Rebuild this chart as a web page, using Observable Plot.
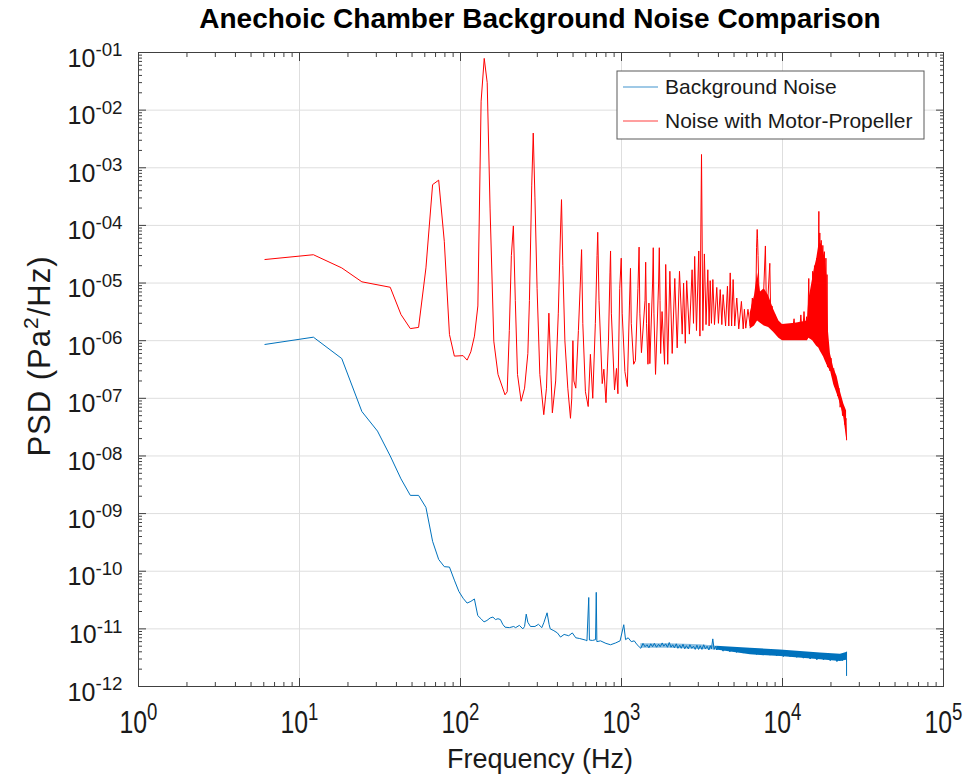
<!DOCTYPE html>
<html>
<head>
<meta charset="utf-8">
<script src="https://cdn.jsdelivr.net/npm/d3@7"></script>
<script src="https://cdn.jsdelivr.net/npm/@observablehq/plot@0.6"></script>
<style>
  html, body { margin: 0; padding: 0; background: #ffffff; }
  #wrap { width: 969px; height: 780px; position: relative; overflow: hidden; font-family: "Liberation Sans", Arial, Helvetica, sans-serif; }
  #title { width: 969px; box-sizing: border-box; padding-left: 111px; height: 36px; line-height: 38px; text-align: center; font-weight: bold; font-size: 28px; color: #000; white-space: nowrap; }
  #chart svg { display: block; }
</style>
</head>
<body>
<div id="wrap">
  <div id="title">Anechoic Chamber Background Noise Comparison</div>
  <div id="chart"></div>
</div>
<script>
// ---------- data ----------
const seriesNames = ["Background Noise", "Noise with Motor-Propeller"];
const seriesColors = ["#0072BD", "#FF0000"];

const xTickValues = [1, 10, 100, 1000, 10000, 100000];
const yTickValues = [1e-12, 1e-11, 1e-10, 1e-9, 1e-8, 1e-7, 1e-6, 1e-5, 1e-4, 1e-3, 1e-2, 1e-1];
const minorMultipliers = [2, 3, 4, 5, 6, 7, 8, 9];

// Background noise PSD: [frequency Hz, PSD Pa^2/Hz]
const backgroundPSD = [
  [6.1,8.6e-7],[12.2,1.15e-6],[18.3,4.9e-7],[24.4,5.9e-8],[30.5,2.7e-8],[36.6,1.0e-8],[42.7,4e-9],
  [48.8,2.07e-9],[54.9,2.07e-9],[61.0,1.28e-9],[67.1,3.3e-10],[73.2,1.6e-10],[79.3,1.2e-10],[85.4,1.18e-10],
  [91.6,7e-11],[97.7,4.46e-11],[103.8,3.4e-11],[109.9,2.8e-11],[116,3.0e-11],[122,3.3e-11],[128,1.7e-11],
  [134,1.5e-11],[140,1.32e-11],[146,1.4e-11],[153,1.55e-11],[159,1.6e-11],[165,1.45e-11],[171,1.5e-11],
  [177,1.45e-11],[183,1.2e-11],[189,1.07e-11],[201,1.05e-11],[214,1.1e-11],[220,1.05e-11],[232,1.15e-11],
  [244,1.0e-11],[250,1.1e-11],[256,1.8e-11],[262,1.3e-11],[272,1.1e-11],[290,1.1e-11],[305,1.2e-11],
  [320,1.05e-11],[330,1.3e-11],[345,1.9e-11],[355,1.2e-11],[361,1.0e-11],[380,9.3e-12],[400,8.5e-12],
  [418,7.2e-12],[440,8e-12],[470,7.6e-12],[495,8.5e-12],[520,7e-12],[550,6.8e-12],[596,6.4e-12],
  [610,6.2e-12],[626,3.5e-11],[632,6.4e-12],[660,6.3e-12],[690,6.5e-12],[697,4.3e-11],[703,6.0e-12],
  [740,6.2e-12],[800,5.6e-12],[855,5.3e-12],[920,5.7e-12],[980,6.2e-12],[1033,1.18e-11],[1060,6.5e-12],
  [1100,7e-12],[1150,6e-12],[1200,6.2e-12],[1250,5.3e-12],[1318,4.6e-12],[1360,5.6e-12],
  [1400,4.9e-12],[1440,5.3e-12],[1480,4.7e-12],[1520,5.5e-12],[1560,4.9e-12],[1600,5.6e-12],[1650,4.8e-12],
  [1700,5.4e-12],[1740,4.9e-12],[1790,5.7e-12],[1830,5.0e-12],[1880,5.5e-12],[1930,4.8e-12],[1980,5.8e-12],
  [2030,4.8e-12],[2080,5.3e-12],[2130,4.7e-12],[2190,5.5e-12],[2240,4.6e-12],[2300,5.2e-12],[2350,4.6e-12],
  [2410,5.4e-12],[2470,4.5e-12],[2530,5.1e-12],[2600,4.5e-12],[2660,5.3e-12],[2730,4.6e-12],[2800,5.0e-12],
  [2870,4.4e-12],[2940,5.2e-12],[3010,4.4e-12],[3080,5.1e-12],[3160,4.4e-12],[3240,5.3e-12],[3320,4.5e-12],
  [3400,5.0e-12],[3490,4.3e-12],[3560,5.1e-12],[3620,4.5e-12],[3690,6.7e-12],[3760,4.4e-12],[3830,5.0e-12],
  [3900,4.3e-12],[4080,4.9e-12],[4280,4.1e-12],[4490,4.8e-12],[4710,4.0e-12],[4940,4.7e-12],
  [5180,3.9e-12],[5430,4.6e-12],[5700,3.8e-12],[5980,4.6e-12],[6270,3.7e-12],[6580,4.5e-12],[6900,3.6e-12],
  [7240,4.4e-12],[7600,3.5e-12],[7970,4.3e-12],[8360,3.5e-12],[8770,4.2e-12],[9200,3.4e-12],[9650,4.2e-12],
  [10120,3.3e-12],[10620,4.1e-12],[11140,3.3e-12],[11690,4.0e-12],[12260,3.2e-12],[12860,3.9e-12],
  [13490,3.1e-12],[14150,3.9e-12],[14850,3.0e-12],[15580,3.8e-12],[16340,2.9e-12],[17140,3.7e-12],
  [17980,2.9e-12],[18860,3.7e-12],[19790,2.8e-12],[20760,3.6e-12],[21780,2.7e-12],[22850,3.5e-12],
  [23500,2.8e-12],[24100,3.6e-12],[24600,3.0e-12],[24900,3.8e-12],[24990,4.0e-12],[25000,1.55e-12]
];

// Noise envelopes of the background PSD: [frequency, low, high]
const backgroundBandSparse = [
  [1318,4.6e-12,5.5e-12],[2000,4.6e-12,5.5e-12],[3095,4.4e-12,5.3e-12],[3900,4.3e-12,5.0e-12]
];
const backgroundBand = [
  [3900,4.3e-12,5.0e-12],[6324,3.55e-12,4.6e-12],[9720,3.3e-12,4.3e-12],
  [17220,2.9e-12,3.8e-12],[22910,2.72e-12,3.64e-12],[24990,2.85e-12,3.9e-12]
];

// Motor-propeller PSD: [frequency Hz, PSD Pa^2/Hz]
const propellerPSD = [
  [6.1,2.56e-5],[12.2,3.1e-5],[18.3,1.83e-5],[24.4,1.05e-5],[36.6,8.45e-6],[42.7,2.84e-6],[48.8,1.62e-6],
  [54.9,1.7e-6],[61.0,1.83e-5],[67.1,5.1e-4],[73.2,6.1e-4],[79.3,5.3e-5],[85.4,1.28e-6],[91.6,5.4e-7],
  [103.8,5.5e-7],[109.9,4.6e-7],[115.9,6.4e-7],[122.1,1.2e-6],[128.2,4e-6],[134.3,1.43e-2],[140.4,7.9e-2],
  [146.5,3.0e-2],[152.6,2.0e-4],[161,9.8e-7],[171,2.6e-7],[189,1.15e-7],[195,1.3e-7],[201,1.5e-6],
  [207,3e-5],[213,9.8e-5],[219,5e-6],[226,2.6e-7],[238,8.9e-8],[250,1.5e-7],[262,6e-7],[268,5e-6],
  [277,5e-4],[283,4.0e-3],[290,3e-4],[299,8e-6],[311,2.6e-7],[329,5.2e-8],[342,1.5e-7],[354,3.0e-6],
  [366,2e-7],[372,5.6e-8],[390,2e-7],[405,3e-6],[418,8e-5],[424,2.8e-4],[432,2e-5],[445,1e-6],
  [464,1.5e-7],[482,4.5e-8],[491,1e-7],[499,1.0e-6],[506,2e-7],[520,1.5e-7],[540,1.5e-6],[555,1e-5],
  [565,3.8e-5],[575,2e-6],[597,1.3e-7],[621,7.2e-8],[641,5.8e-7],[663,1.0e-7],[688,2e-6],[705,3e-5],
  [712,7.6e-5],[725,5e-6],[759,1.8e-7],[777,3.2e-7],[801,8.4e-8],[830,1e-6],[848,1.5e-5],[855,3.6e-5],
  [865,3e-6],[905,1.4e-7],[931,3.3e-7],[950,1.2e-7],[975,8e-6],[996,2.7e-5],[1010,3e-6],[1050,2.9e-7],
  [1087,1.6e-7],[1120,4e-6],[1137,1.8e-5],[1150,2e-6],[1190,3.9e-7],[1220,4.5e-7],[1265,8e-6],
  [1286,4.2e-5],[1300,3e-6],[1330,6.2e-7],[1400,5e-6],[1413,2.3e-5],[1430,2e-6],[1460,3.9e-7],
  [1480,4.5e-6],[1500,4e-7],[1560,1e-5],[1575,4.1e-5],[1590,3e-6],[1627,2.6e-7],[1700,1e-5],
  [1717,4.1e-5],[1735,5e-6],[1750,6e-7],[1786,3.2e-6],[1851,3.9e-7],[1882,2.1e-5],[1937,3.9e-7],
  [1997,1.6e-5],[2065,6e-7],[2143,1.2e-5],[2218,7.5e-7],[2292,1.6e-5],[2383,1.3e-6],[2430,1.0e-5],
  [2490,9e-7],[2540,1.1e-5],[2640,1.3e-6],[2745,1.7e-5],[2800,2e-6],[2848,2.9e-5],[2922,1.5e-6],
  [3020,3.6e-5],[3070,1.2e-6],[3140,1.7e-3],[3200,1.5e-6],[3272,3.2e-5],[3350,1.9e-6],[3437,1.7e-5],
  [3500,1.8e-6],[3556,1.1e-5],[3620,2e-6],[3693,1.15e-5],[3780,1.9e-6],[3906,8.4e-6],[4000,2e-6],
  [4104,7.7e-6],[4200,1.9e-6],[4277,6.3e-6],[4430,1.8e-6],[4550,8.8e-6],[4640,1.8e-6],[4734,1.5e-5],
  [4830,1.8e-6],[4936,1.15e-5],[5050,1.8e-6],[5200,5.5e-6],[5350,1.6e-6],[5557,4.8e-6],[5700,1.6e-6],
  [5800,3.5e-6],[5914,1.65e-6],[6100,3.5e-6],[6300,1.8e-6],[6498,5.5e-6],[6650,2.5e-6],[6841,7.3e-6],
  [6900,4.1e-5],[6963,8.5e-5],[7000,6e-5],[7050,3e-5],[7150,6.3e-6],[7300,2.5e-6],[7500,2.2e-6],
  [7650,8e-6],[7830,4.4e-5],[7950,3e-6],[8100,5e-6],[8340,2.2e-5],[8450,2.5e-6],[8600,4e-6],
  [8750,2.5e-6],[9000,2.8e-6],[9500,1.5e-6],[10100,1.1e-6],[10500,1.6e-6],[10800,1.1e-6],[11100,1.8e-6],
  [11400,1.2e-6],[11800,2.4e-6],[12100,1.1e-6],[12400,1.9e-6],[12700,1.2e-6],[13000,2.8e-6],[13300,1.1e-6],
  [13600,3.2e-6],[13900,1.2e-6],[14100,2.6e-6],[14300,1.1e-6],[14560,1.2e-5],[14700,1.4e-6],[14900,6e-6],
  [15100,1.2e-6],[15400,1.6e-5],[15600,1.3e-6],[15800,2e-5],[16000,1.1e-6],[16300,2.7e-5],[16600,1e-6],
  [16820,1.75e-4],[16900,9e-7],[17050,7.4e-5],[17200,8e-7],[17400,5.5e-5],[17600,7e-7],[17800,4.5e-5],
  [18000,6e-7],[18200,3.5e-5],[18400,5e-7],[18600,2.7e-5],[18800,4e-7],[18900,1.4e-5],[19100,3.5e-7],
  [19400,6e-7],[19700,3e-7],[20000,5e-7],[20400,2.5e-7],[20800,3.3e-7],[21200,1.6e-7],[21600,2.2e-7],
  [22000,1.1e-7],[22400,1.5e-7],[22800,7e-8],[23200,1e-7],[23600,5e-8],[24000,6.6e-8],[24400,3.5e-8],
  [24800,4.5e-8],[25000,1.9e-8]
];

// Dense noise envelope of the propeller PSD: [frequency, low, high]
const propellerBand = [
  [6300,1.6e-6,3e-6],[6700,1.8e-6,6e-6],[7000,2.2e-6,1.5e-5],[7300,2e-6,7e-6],[7700,1.8e-6,8e-6],
  [8200,1.7e-6,6e-6],[8800,1.4e-6,3.5e-6],[9500,1.1e-6,2.2e-6],[10000,1e-6,1.9e-6],[12000,1e-6,2e-6],
  [14300,1e-6,2.2e-6],[14560,1.1e-6,5e-6],[15000,1.05e-6,8e-6],[15400,1e-6,1.2e-5],[15800,9e-7,1.8e-5],
  [16300,8e-7,2.6e-5],[16800,7.5e-7,4.5e-5],[17200,6.5e-7,5e-5],[17600,5.8e-7,4.5e-5],[18000,5.2e-7,3.5e-5],
  [18400,4.5e-7,2.6e-5],[18830,3.9e-7,1.4e-5],[19100,3.5e-7,2e-6],[19860,3.0e-7,5.9e-7],
  [20840,1.7e-7,3.3e-7],[21830,1.2e-7,2.4e-7],[22900,8e-8,1.3e-7],[24040,4.6e-8,8e-8],[25000,2e-8,6e-8]
];

// ---------- tables built from the arrays ----------
const toRows = arr => arr.map(([f, v]) => ({f, v}));
const toBand = arr => arr.map(([f, lo, hi]) => ({f, lo, hi}));
const blueRows = toRows(backgroundPSD), redRows = toRows(propellerPSD);
const blueBandRows = toBand(backgroundBand), blueSparseRows = toBand(backgroundBandSparse);
const redBandRows = toBand(propellerBand);

const xMinor = xTickValues.slice(0, -1).flatMap(d => minorMultipliers.map(m => d * m));
const yMinor = yTickValues.slice(0, -1).flatMap(d => minorMultipliers.map(m => d * m));

const expOf = d => Math.round(Math.log10(d));
const xFmt = d => "10|" + expOf(d);
const yFmt = d => { const e = expOf(d); return "10|" + (e < 0 ? "-" : "") + String(Math.abs(e)).padStart(2, "0"); };

const axisColor = "#404040";
const gridColor = "#dedede";
const none = () => null;

const chart = Plot.plot({
  width: 969,
  height: 744,
  marginTop: 16,
  marginBottom: 94,
  marginLeft: 138,
  marginRight: 26,
  style: {background: "#ffffff", fontFamily: "'Liberation Sans', Arial, Helvetica, sans-serif", color: "#262626"},
  x: {type: "log", domain: [1, 1e5], label: null},
  y: {type: "log", domain: [1e-12, 1e-1], label: null},
  marks: [
    Plot.gridX(xTickValues, {stroke: gridColor, strokeOpacity: 1}),
    Plot.gridY(yTickValues, {stroke: gridColor, strokeOpacity: 1}),
    Plot.areaY(redBandRows, {x: "f", y1: "lo", y2: "hi", fill: seriesColors[1]}),
    Plot.areaY(blueSparseRows, {x: "f", y1: "lo", y2: "hi", fill: seriesColors[0], fillOpacity: 0.45}),
    Plot.areaY(blueBandRows, {x: "f", y1: "lo", y2: "hi", fill: seriesColors[0]}),
    Plot.line(blueRows, {x: "f", y: "v", stroke: seriesColors[0], strokeWidth: 1}),
    Plot.line(redRows, {x: "f", y: "v", stroke: seriesColors[1], strokeWidth: 1}),
    Plot.frame({stroke: axisColor}),
    // inward ticks on all four sides
    Plot.axisX(xTickValues, {anchor: "bottom", tickSize: -8, tickFormat: none, label: null, stroke: axisColor}),
    Plot.axisX(xMinor, {anchor: "bottom", tickSize: -4, tickFormat: none, label: null, stroke: axisColor}),
    Plot.axisX(xTickValues, {anchor: "top", tickSize: -8, tickFormat: none, label: null, stroke: axisColor}),
    Plot.axisX(xMinor, {anchor: "top", tickSize: -4, tickFormat: none, label: null, stroke: axisColor}),
    Plot.axisY(yTickValues, {anchor: "left", tickSize: -8, tickFormat: none, label: null, stroke: axisColor}),
    Plot.axisY(yMinor, {anchor: "left", tickSize: -4, tickFormat: none, label: null, stroke: axisColor}),
    Plot.axisY(yTickValues, {anchor: "right", tickSize: -8, tickFormat: none, label: null, stroke: axisColor}),
    Plot.axisY(yMinor, {anchor: "right", tickSize: -4, tickFormat: none, label: null, stroke: axisColor}),
    // tick labels
    Plot.axisX(xTickValues, {anchor: "bottom", tickSize: 0, tickPadding: 24, tickFormat: xFmt, label: null, fontSize: 31, fill: "#1a1a1a"}),
    Plot.axisY(yTickValues, {anchor: "left", tickSize: 0, tickPadding: 16, tickFormat: yFmt, label: null, fontSize: 25, fill: "#1a1a1a", dy: 6})
  ]
});

document.getElementById("chart").appendChild(chart);

// ---------- superscripts for the power-of-ten tick labels ----------
const svg = d3.select(chart);
const svgNS = "http://www.w3.org/2000/svg";
svg.selectAll("text").each(function () {
  const t = this.textContent;
  if (!t.includes("|")) return;
  const [base, exp] = t.split("|");
  this.textContent = base;
  d3.select(this).append("tspan").attr("dy", "-0.55em").attr("font-size", "0.75em").text(exp);
});
// narrow the x tick labels around their own centre (wrapper group, text untouched)
function condense(el, k) {
  const parent = el.parentNode;
  const r = el.getBoundingClientRect();
  const m = parent.getScreenCTM().inverse();
  const p = new DOMPoint(r.x + r.width / 2, r.y + r.height / 2).matrixTransform(m);
  const g = document.createElementNS(svgNS, "g");
  g.setAttribute("transform", `translate(${p.x},${p.y}) scale(${k},1) translate(${-p.x},${-p.y})`);
  parent.insertBefore(g, el);
  g.appendChild(el);
}
svg.selectAll('g[aria-label="x-axis tick label"] text').nodes().forEach(el => condense(el, 0.8));

// ---------- axis titles ----------
const top0 = 36; // svg starts below the title
svg.append("text")
  .attr("x", 540).attr("y", 768 - top0)
  .attr("text-anchor", "middle").attr("font-size", 27).attr("fill", "#1a1a1a")
  .text("Frequency (Hz)");

const yt = svg.append("text")
  .attr("transform", `translate(50,${356 - top0}) rotate(-90)`)
  .attr("text-anchor", "middle").attr("font-size", 31).attr("letter-spacing", 1).attr("fill", "#1a1a1a");
yt.append("tspan").text("PSD (Pa");
yt.append("tspan").attr("dy", -12).attr("font-size", 21).text("2");
yt.append("tspan").attr("dy", 12).text("/Hz)");

// ---------- legend ----------
const lg = svg.append("g").attr("transform", `translate(617,${71 - top0})`);
lg.append("rect").attr("width", 307).attr("height", 68).attr("fill", "#ffffff").attr("stroke", "#5a5a5a");
seriesNames.forEach((name, i) => {
  const cy = 16 + i * 34;
  lg.append("line").attr("x1", 6).attr("x2", 41).attr("y1", cy).attr("y2", cy)
    .attr("stroke", seriesColors[i]).attr("stroke-width", 1.2).attr("stroke-opacity", 0.75);
  lg.append("text").attr("x", 48).attr("y", cy).attr("dy", "0.35em").attr("text-anchor", "start")
    .attr("font-size", 21).attr("fill", "#1a1a1a").text(name);
});
</script>
</body>
</html>
